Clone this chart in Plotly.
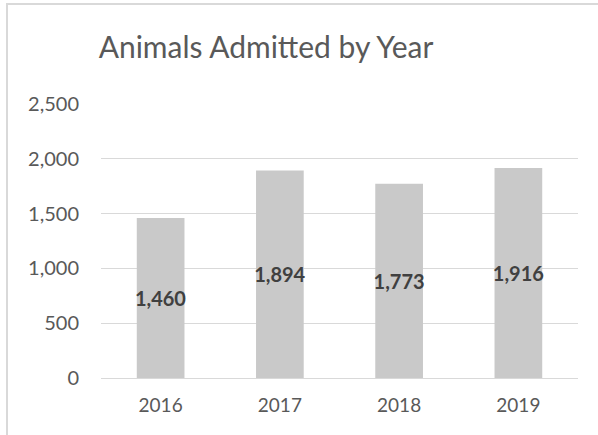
import plotly.graph_objects as go

years = ["2016", "2017", "2018", "2019"]
admitted = [1460, 1894, 1773, 1916]
tick_vals = [0, 500, 1000, 1500, 2000, 2500]
tick_text = ["0", "500", "1,000", "1,500", "2,000", "2,500"]

W, H = 598, 435
L, R, T, B = 101, 20, 104, 57
pw, ph = W - L - R, H - T - B

fig = go.Figure(go.Bar(
    x=years, y=admitted,
    marker=dict(color="#c9c9c9", line=dict(width=0)),
    width=0.4,
    text=[f"{v:,}" for v in admitted],
    textposition="inside",
    insidetextanchor="middle",
    constraintext="none",
    textangle=0,
    textfont=dict(family="Lato", size=20, color="#404040", weight="bold"),
    hoverinfo="skip",
))

fig.update_layout(
    width=W, height=H,
    margin=dict(l=L, r=R, t=T, b=B),
    paper_bgcolor="white", plot_bgcolor="white",
    showlegend=False,
    title=dict(text="Animals Admitted by Year", xref="container", yref="container",
               x=266 / W, y=1 - 47 / H, xanchor="center", yanchor="middle",
               font=dict(family="Lato", size=30, color="#595959")),
    font=dict(family="Lato", color="#595959", size=19),
    uniformtext=dict(mode=False),
)
fig.update_xaxes(showgrid=False, showline=False, ticks="", ticklabelstandoff=14,
                 tickfont=dict(size=19, color="#595959"), automargin=False)
fig.update_yaxes(range=[0, 2500], tickvals=tick_vals, ticktext=tick_text,
                 showgrid=True, gridcolor="#d9d9d9", gridwidth=1,
                 zeroline=True, zerolinecolor="#d9d9d9", zerolinewidth=1,
                 showline=False, ticks="", ticklen=0, ticklabelstandoff=21,
                 tickfont=dict(size=20, color="#595959"), automargin=False)

fig.add_shape(type="rect", xref="paper", yref="paper",
              x0=(7 - L) / pw, x1=(603 - L) / pw,
              y0=-(440 - (H - B)) / ph, y1=1 + (T - 4) / ph,
              line=dict(color="#d9d9d9", width=2), layer="below")

fig.write_html("out.html", config={"displayModeBar": False},
               post_script="document.body.style.margin='0';")
